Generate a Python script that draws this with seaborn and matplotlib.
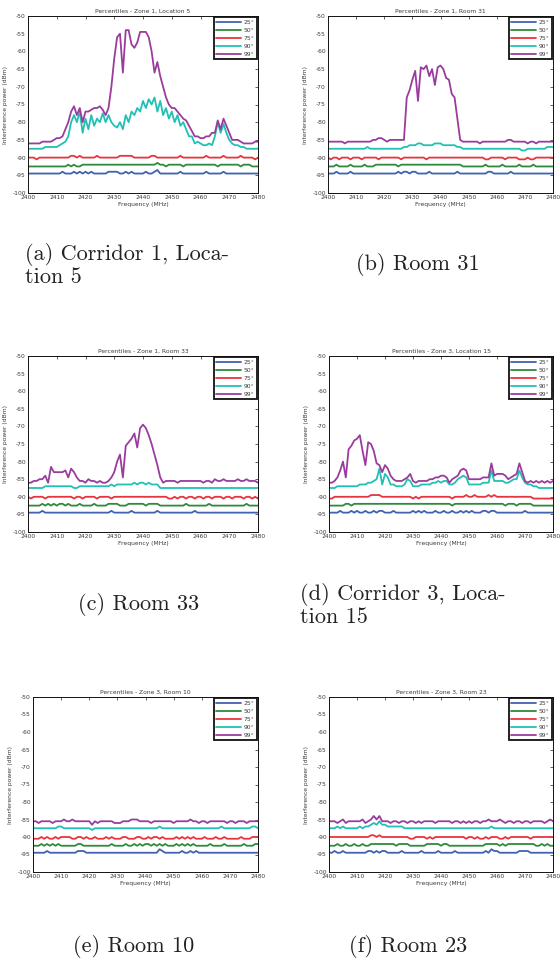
import matplotlib
matplotlib.use("Agg")
import matplotlib.pyplot as plt
import seaborn as sns
import pandas as pd

# ---------------- data ----------------
FREQ = list(range(2400, 2481))  # MHz, 1 MHz steps
LABELS = ["25°", "50°", "75°", "90°", "99°"]
COLORS = ["#3f63b0", "#2f8a3c", "#e8343c", "#22c0b4", "#9a3c9e"]

TITLES = ["Percentiles - Zone 1, Location 5", "Percentiles - Zone 1, Room 31",
          "Percentiles - Zone 1, Room 33", "Percentiles - Zone 3, Location 15",
          "Percentiles - Zone 3, Room 10", "Percentiles - Zone 3, Room 23"]

# (a) Corridor 1, Location 5
A25 = [-94.5,-94.5,-94.5,-94.5,-94.5,-94.5,-94.5,-94.5,-94.5,-94.5,
       -94.5,-94.5,-94,-94.5,-94.5,-94.5,-94,-94.5,-94,-94.5,
       -94,-94.5,-94,-94.5,-94.5,-94.5,-94.5,-94.5,-94,-94,
       -94,-94,-94.5,-94.5,-94,-94.5,-94,-94.5,-94.5,-94.5,
       -94.5,-94,-94.5,-94.5,-94,-93.5,-94.5,-94.5,-94.5,-94.5,
       -94.5,-94.5,-94.5,-94,-94.5,-94.5,-94.5,-94.5,-94.5,-94.5,
       -94.5,-94.5,-94,-94.5,-94.5,-94.5,-94.5,-94.5,-94,-94.5,
       -94.5,-94.5,-94.5,-94.5,-94.5,-94.5,-94.5,-94.5,-94.5,-94.5,
       -94.5]
A50 = [-92.5,-92.5,-92.5,-92.5,-92.5,-92.5,-92.5,-92.5,-92.5,-92.5,
       -92.5,-92.5,-92.5,-92.5,-92,-92.5,-92,-92.5,-92.5,-92,
       -92,-92,-92,-92,-92,-92,-92,-92,-92,-92,
       -92,-92,-92,-92,-92,-92,-92,-92,-92,-92,
       -92,-92,-92,-92,-92,-91.5,-92,-92,-92.5,-92,
       -92,-92,-92,-92,-92.5,-92,-92,-92,-92,-92,
       -92,-92,-92,-92,-92,-92,-92.5,-92,-92,-92,
       -92,-92,-92,-92,-92.5,-92,-92,-92,-92.5,-92.5,
       -92.5]
A75 = [-90,-90,-90,-90.5,-90,-90,-90,-90,-90,-90,
       -90,-90,-90,-90,-90,-89.5,-89.5,-90,-89.5,-90,
       -90,-90,-90,-90,-89.5,-90,-90,-90,-90,-90,
       -90,-90,-89.5,-89.5,-89.5,-89.5,-89.5,-90,-90,-90,
       -90,-90,-90,-89.5,-89.5,-90,-90,-90,-90,-90,
       -90,-90,-90,-89.5,-90,-90,-90,-90,-90,-90,
       -90,-90,-89.5,-90,-90,-90,-90,-90,-89.5,-90,
       -90,-90,-90,-90,-89.5,-90,-90,-90,-90,-90.5,
       -90]
A90 = [-87.5,-87.5,-87.5,-87.5,-87.5,-87.5,-87,-87,-87,-87,
       -87,-86.5,-86,-85.5,-84,-80,-78,-80,-77,-83,
       -79,-82,-78,-81,-79,-80,-77.5,-80,-78,-80,
       -81,-81.5,-80,-82,-78,-80,-77,-78,-76,-77,
       -74,-76,-73.5,-75,-73,-77,-74,-78,-76,-79,
       -77,-80,-78,-81,-80,-82,-84,-84,-86,-85.5,
       -86,-86.5,-86.5,-86,-86.5,-84,-80,-83,-80.5,-83,
       -85,-86,-86.5,-86.5,-87,-87,-87.5,-87.5,-87.5,-87.5,
       -87.5]
A99 = [-86,-86,-86,-86,-86,-85.5,-85.5,-85.5,-85.5,-85,
       -84.5,-84.5,-84,-82,-80,-77,-75.5,-78,-76,-80,
       -77,-77,-76.5,-76,-76,-75.5,-76.5,-78,-76,-70,
       -62,-56,-55,-66,-54,-54,-58,-59,-57.5,-54.5,
       -54.5,-54.5,-56,-60,-66,-63,-67,-70,-73,-75,
       -76,-76,-77,-78,-79,-79.5,-81,-82.5,-84,-84,
       -84.5,-84.5,-84,-84,-83,-83,-79.5,-82,-79,-81,
       -83,-85,-85,-85,-85.5,-86,-86,-86,-86,-85.5,
       -85.5]

# (b) Room 31
B25 = [-94.5,-94.5,-94.5,-94,-94.5,-94.5,-94.5,-94.5,-94,-94.5,
       -94.5,-94.5,-94.5,-94.5,-94.5,-94.5,-94.5,-94.5,-94.5,-94.5,
       -94.5,-94.5,-94.5,-94.5,-94.5,-94,-94.5,-94,-94,-94.5,
       -94,-94,-94.5,-94.5,-94.5,-94.5,-94,-94.5,-94.5,-94.5,
       -94.5,-94.5,-94.5,-94.5,-94.5,-94.5,-94,-94.5,-94.5,-94.5,
       -94.5,-94.5,-94.5,-94.5,-94.5,-94.5,-94.5,-94,-94,-94.5,
       -94.5,-94.5,-94.5,-94.5,-94.5,-94,-94.5,-94.5,-94.5,-94.5,
       -94.5,-94.5,-94.5,-94.5,-94.5,-94.5,-94.5,-94.5,-94.5,-94.5,
       -94.5]
B50 = [-92.5,-92.5,-92.5,-92,-92.5,-92.5,-92.5,-92.5,-92,-92.5,
       -92.5,-92.5,-92.5,-92,-92.5,-92.5,-92.5,-92,-92,-92,
       -92,-92,-92,-92,-92,-92.5,-92,-92,-92,-92,
       -92,-92,-92,-92,-92,-92,-92,-92,-92,-92,
       -92,-92,-92,-92,-92,-92,-92,-92,-92.5,-92.5,
       -92.5,-92.5,-92.5,-92.5,-92.5,-92.5,-92,-92.5,-92.5,-92.5,
       -92.5,-92.5,-92,-92.5,-92.5,-92.5,-92.5,-92.5,-92,-92.5,
       -92.5,-92.5,-92.5,-92,-92.5,-92.5,-92.5,-92.5,-92.5,-92.5,
       -92.5]
B75 = [-90,-90.5,-90,-90,-90.5,-90,-90,-90,-90.5,-90,
       -90,-90,-90.5,-90,-90,-90,-90,-90,-90.5,-90,
       -90,-90,-90,-90,-90,-90,-90.5,-90,-90,-90,
       -90,-90,-90,-90,-90,-90.5,-90,-90,-90,-90,
       -90,-90,-90,-90,-90,-90,-90,-90,-90,-90,
       -90,-90,-90,-90,-90,-90,-90.5,-90.5,-90,-90,
       -90,-90,-90,-90.5,-90,-90,-90,-90,-90.5,-90.5,
       -90.5,-90,-90.5,-90.5,-90,-90,-90,-90,-90,-90,
       -90]
B90 = [-87.5,-87.5,-87.5,-87.5,-87.5,-87.5,-87.5,-87.5,-87.5,-87.5,
       -87.5,-87.5,-87.5,-87.5,-87,-87.5,-87.5,-87.5,-87.5,-87.5,
       -87.5,-87.5,-87.5,-87.5,-87.5,-87.5,-87.5,-87,-87,-86.5,
       -86.5,-86.5,-86,-86,-86.5,-86.5,-86.5,-86.5,-86,-86,
       -86,-86.5,-86.5,-86.5,-86.5,-86.5,-87,-87,-87.5,-87.5,
       -87.5,-87.5,-87.5,-87.5,-87.5,-87.5,-87.5,-87.5,-87.5,-87.5,
       -87.5,-87.5,-87.5,-87.5,-87.5,-87.5,-87.5,-87.5,-87.5,-88,
       -88,-87.5,-87.5,-87.5,-87.5,-87.5,-87.5,-87.5,-87,-87,
       -87]
B99 = [-85.5,-85.5,-85.5,-85.5,-85.5,-85.5,-86,-85.5,-85.5,-85.5,
       -85.5,-85.5,-85.5,-85.5,-85.5,-85.5,-85,-85,-84.5,-84.5,
       -85,-85.5,-85,-85,-85,-85,-85,-85,-73,-71,
       -68,-65.5,-74,-64.5,-65,-64,-67,-65,-69.5,-64.5,
       -64,-65,-67.5,-68,-72,-73,-79,-85,-85.5,-85.5,
       -85.5,-85.5,-85.5,-85.5,-86,-85.5,-85.5,-85.5,-85.5,-85.5,
       -85.5,-85.5,-85.5,-85.5,-85,-85,-85.5,-85.5,-85.5,-85.5,
       -85.5,-86,-85.5,-85.5,-86,-85.5,-85.5,-85.5,-85.5,-85.5,
       -85.5]

# (c) Room 33
C25 = [-94.5,-94.5,-94.5,-94.5,-94.5,-94,-94.5,-94.5,-94.5,-94.5,
       -94.5,-94.5,-94.5,-94.5,-94.5,-94.5,-94.5,-94.5,-94.5,-94.5,
       -94.5,-94.5,-94.5,-94.5,-94.5,-94.5,-94.5,-94.5,-94.5,-94,
       -94.5,-94.5,-94.5,-94.5,-94.5,-94.5,-94,-94.5,-94.5,-94.5,
       -94.5,-94.5,-94.5,-94.5,-94.5,-94,-94.5,-94.5,-94.5,-94.5,
       -94.5,-94.5,-94.5,-94.5,-94.5,-94.5,-94.5,-94.5,-94,-94.5,
       -94.5,-94.5,-94.5,-94.5,-94.5,-94.5,-94.5,-94.5,-94.5,-94.5,
       -94.5,-94.5,-94.5,-94.5,-94.5,-94.5,-94.5,-94.5,-94.5,-94.5,
       -94.5]
C50 = [-92.5,-92.5,-92.5,-92.5,-92.5,-92,-92.5,-92,-92.5,-92,
       -92.5,-92,-92,-92.5,-92,-92.5,-92.5,-92.5,-92,-92.5,
       -92.5,-92.5,-92.5,-92,-92.5,-92.5,-92.5,-92.5,-92,-92,
       -92,-92,-92.5,-92.5,-92.5,-92,-92,-92,-92,-92,
       -92,-92.5,-92,-92,-92,-92,-92.5,-92.5,-92.5,-92.5,
       -92.5,-92.5,-92.5,-92.5,-92.5,-92,-92.5,-92.5,-92.5,-92.5,
       -92.5,-92.5,-92.5,-92,-92.5,-92.5,-92.5,-92.5,-92.5,-92.5,
       -92.5,-92.5,-92.5,-92.5,-92.5,-92.5,-92,-92.5,-92.5,-92.5,
       -92.5]
C75 = [-90,-90.5,-90,-90,-90,-90,-90.5,-90,-90,-90,
       -90,-90,-90,-90,-90,-90,-90.5,-90,-90,-90.5,
       -90,-90,-90,-90,-90.5,-90,-90,-90,-90,-90.5,
       -90,-90,-90,-90,-90,-90,-90,-90,-90,-90,
       -90,-90,-90,-90,-90,-90,-90,-90,-90,-90.5,
       -90.5,-90,-90.5,-90,-90,-90.5,-90,-90,-90.5,-90,
       -90,-90.5,-90,-90,-90.5,-90,-90,-90,-90.5,-90,
       -90,-90.5,-90,-90,-90,-90.5,-90,-90,-90.5,-90,
       -90.5]
C90 = [-87.5,-87.5,-87.5,-87.5,-87.5,-87.5,-87,-87,-87,-87,
       -87,-87,-87,-87,-87,-87,-87.5,-87.5,-87,-87,
       -87,-87,-87,-87,-87,-87,-87,-87,-87,-86.5,
       -87,-86.5,-86.5,-86.5,-86.5,-86.5,-86.5,-86,-86.5,-86,
       -86,-86.5,-86,-86.5,-86.5,-86.5,-87.5,-87.5,-87.5,-87.5,
       -87.5,-87.5,-87.5,-87.5,-87.5,-87.5,-87.5,-87.5,-87.5,-87.5,
       -87.5,-87.5,-87.5,-87.5,-87.5,-87.5,-87.5,-87.5,-87.5,-87.5,
       -87.5,-87.5,-87.5,-87.5,-87.5,-87.5,-87.5,-87.5,-87.5,-87.5,
       -87.5]
C99 = [-86,-86,-85.5,-85.5,-85,-85,-84,-86,-81.5,-83,
       -83,-83,-83,-82.5,-84.5,-82,-83,-84.5,-85.5,-85.5,
       -86,-85,-85.5,-85.5,-86,-85.5,-86,-86,-85.5,-84.5,
       -83,-80,-78,-84.5,-75.5,-74.5,-73.5,-72,-76,-70.5,
       -69.5,-70.5,-72.5,-75,-78,-81,-84.5,-86,-85.5,-85.5,
       -85.5,-85.5,-86,-85.5,-85.5,-85.5,-85.5,-85.5,-85.5,-85.5,
       -85.5,-86,-85.5,-85.5,-86,-85,-85.5,-85.5,-85,-85.5,
       -85.5,-85.5,-85.5,-85,-85.5,-85.5,-85,-85.5,-85.5,-85.5,
       -86]

# (d) Corridor 3, Location 15
D25 = [-94.5,-94.5,-94.5,-94.5,-94,-94.5,-94.5,-94.5,-94,-94.5,
       -94,-94.5,-94.5,-94,-94.5,-94.5,-94,-94.5,-94,-94,
       -94.5,-94.5,-94.5,-94,-94.5,-94.5,-94.5,-94.5,-94.5,-94.5,
       -94,-94.5,-94,-94.5,-94,-94.5,-94.5,-94.5,-94,-94.5,
       -94.5,-94,-94.5,-94.5,-94,-94.5,-94.5,-94,-94.5,-94,
       -94.5,-94,-94.5,-94.5,-94.5,-94,-94,-94.5,-94,-94,
       -94.5,-94.5,-94.5,-94.5,-94.5,-94.5,-94.5,-94.5,-94.5,-94.5,
       -94,-94.5,-94.5,-94.5,-94.5,-94.5,-94.5,-94.5,-94.5,-94.5,
       -94.5]
D50 = [-92.5,-92.5,-92.5,-92.5,-92.5,-92.5,-92,-92,-92.5,-92,
       -92,-92,-92,-92,-92,-92,-92,-92,-92,-92,
       -92,-92,-92,-92,-92,-92,-92,-92,-92,-92,
       -92,-92,-92,-92,-92,-92,-92,-92,-92,-92,
       -92,-92,-92,-92,-92.5,-92,-92,-92,-92,-92,
       -92,-92,-92,-92,-92,-92,-92,-92,-92,-92,
       -92,-92,-92,-92.5,-92,-92,-92,-92.5,-92,-92,
       -92,-92,-92,-92.5,-92.5,-92.5,-92.5,-92.5,-92.5,-92.5,
       -92.5]
D75 = [-90.5,-90.5,-90,-90,-90,-90,-90,-90,-90,-90,
       -90,-90,-90,-90,-90,-89.5,-89.5,-89.5,-89.5,-90,
       -90,-90,-90,-90,-90,-90,-90,-90,-90,-90,
       -90.5,-90,-90.5,-90,-90,-90,-90,-90,-90,-90,
       -90,-90,-90,-90,-90.5,-90,-90,-90,-90,-89.5,
       -90,-90,-89.5,-90,-90,-90,-90,-89.5,-90,-89.5,
       -90,-90,-90,-90,-90,-90,-90,-90,-90,-90,
       -90,-90,-90,-90.5,-90.5,-90.5,-90.5,-90.5,-90.5,-90.5,
       -90.5]
D90 = [-87.5,-87.5,-87.5,-87,-87,-87,-87,-87,-87,-87,
       -87,-86.5,-86.5,-86.5,-86,-86,-85.5,-85,-82,-86.5,
       -83.5,-84.5,-86.5,-86.5,-87,-87,-87,-86.5,-85,-85.5,
       -87,-87,-87,-86.5,-86.5,-86.5,-86.5,-86,-86,-85.5,
       -86,-85.5,-85.5,-86.5,-86.5,-86,-85,-84.5,-84,-84.5,
       -86.5,-86.5,-86.5,-86.5,-86.5,-86,-86,-86,-82.5,-85.5,
       -85.5,-85.5,-85.5,-86,-86,-85.5,-85,-85,-82.5,-84.5,
       -86,-86.5,-86.5,-87,-87,-87.5,-87.5,-87.5,-87.5,-87.5,
       -87.5]
D99 = [-86,-86,-85.5,-84.5,-82.5,-80,-84.5,-76.5,-75.5,-74,
       -73.5,-72.5,-77,-81,-74.5,-75,-77,-80.5,-81,-83,
       -81,-82,-84,-85,-85.5,-85.5,-85.5,-85,-84.5,-83.5,
       -85.5,-86,-85.5,-85.5,-85.5,-85.5,-85,-85,-84.5,-84.5,
       -84,-84,-84.5,-86,-85,-84.5,-84,-82.5,-82,-82.5,
       -85,-85,-85,-85,-85,-84.5,-84.5,-84.5,-80.5,-84,
       -83.5,-83.5,-83.5,-84,-85,-84.5,-84,-83.5,-80.5,-83,
       -85.5,-86,-85.5,-86,-85.5,-86,-85.5,-86,-85.5,-86,
       -85.5]

# (e) Room 10
E25 = [-94.5,-94.5,-94.5,-94.5,-94.5,-94,-94.5,-94.5,-94.5,-94.5,
       -94.5,-94.5,-94.5,-94.5,-94.5,-94.5,-94,-94,-94,-94.5,
       -94.5,-94.5,-94.5,-94.5,-94.5,-94.5,-94.5,-94.5,-94.5,-94.5,
       -94.5,-94.5,-94.5,-94.5,-94.5,-94.5,-94.5,-94.5,-94.5,-94.5,
       -94.5,-94.5,-94.5,-94.5,-94.5,-93.5,-94,-94.5,-94.5,-94.5,
       -94.5,-94.5,-94.5,-94,-94.5,-94.5,-94,-94.5,-94,-94.5,
       -94.5,-94.5,-94.5,-94.5,-94.5,-94.5,-94.5,-94.5,-94.5,-94.5,
       -94.5,-94.5,-94.5,-94.5,-94.5,-94.5,-94.5,-94.5,-94.5,-94.5,
       -94.5]
E50 = [-92.5,-92.5,-92.5,-92,-92.5,-92,-92.5,-92,-92.5,-92,
       -92.5,-92.5,-92.5,-92.5,-92.5,-92.5,-92,-92,-92.5,-92.5,
       -92.5,-92.5,-92.5,-92.5,-92.5,-92.5,-92.5,-92.5,-92,-92.5,
       -92.5,-92.5,-92.5,-92,-92.5,-92.5,-92,-92.5,-92,-92.5,
       -92,-92,-92.5,-92,-92.5,-92,-92.5,-92,-92.5,-92.5,
       -92.5,-92,-92.5,-92,-92.5,-92,-92.5,-92,-92.5,-92.5,
       -92.5,-92.5,-92.5,-92,-92.5,-92.5,-92.5,-92.5,-92,-92.5,
       -92.5,-92.5,-92.5,-92.5,-92.5,-92,-92.5,-92.5,-92.5,-92,
       -92]
E75 = [-90.5,-90.5,-90.5,-90,-90.5,-90,-90.5,-90.5,-90,-90.5,
       -90,-90,-90,-90,-90.5,-90.5,-90,-90,-90.5,-90,
       -90.5,-90.5,-90,-90.5,-90.5,-90.5,-90,-90.5,-90,-90.5,
       -90.5,-90.5,-90,-90,-90.5,-90.5,-90.5,-90,-90,-90.5,
       -90.5,-90,-90.5,-90,-90,-90.5,-90,-90.5,-90.5,-90.5,
       -90.5,-90,-90.5,-90,-90.5,-90,-90.5,-90,-90.5,-90.5,
       -90.5,-90,-90.5,-90.5,-90.5,-90,-90.5,-90.5,-90,-90.5,
       -90.5,-90.5,-90.5,-90.5,-90,-90.5,-90.5,-90.5,-90,-90,
       -90]
E90 = [-87.5,-87.5,-87.5,-87.5,-87.5,-87.5,-87.5,-87.5,-87.5,-87,
       -87,-87.5,-87.5,-87.5,-87.5,-87.5,-87.5,-87.5,-87.5,-87.5,
       -87.5,-88,-87.5,-87.5,-87.5,-87.5,-87.5,-87.5,-87.5,-87.5,
       -87.5,-87.5,-87.5,-87.5,-87.5,-87.5,-87.5,-87.5,-87.5,-87.5,
       -87.5,-87.5,-87.5,-87.5,-87.5,-87,-87.5,-87.5,-87.5,-87.5,
       -87.5,-87.5,-87.5,-87.5,-87.5,-87.5,-87.5,-87.5,-87.5,-87.5,
       -87.5,-87.5,-87.5,-87.5,-87.5,-87.5,-87.5,-87,-87.5,-87.5,
       -87.5,-87.5,-87.5,-87.5,-87.5,-87.5,-87.5,-87.5,-87,-87,
       -87.5]
E99 = [-85.5,-85.5,-86,-85.5,-85.5,-85.5,-85.5,-86,-85.5,-85.5,
       -85.5,-85,-85.5,-85.5,-85,-85.5,-85.5,-85.5,-85.5,-85.5,
       -85.5,-86.5,-85.5,-86,-85.5,-85.5,-85.5,-85.5,-85.5,-86,
       -86,-86,-85.5,-85.5,-85.5,-85,-85,-85,-85.5,-85.5,
       -85.5,-85.5,-86,-85.5,-85.5,-85.5,-85.5,-85.5,-85.5,-85.5,
       -86,-85.5,-85.5,-85.5,-85.5,-85.5,-85,-85.5,-85.5,-86,
       -85.5,-85.5,-86,-85.5,-85.5,-85.5,-85.5,-85.5,-85.5,-86,
       -85.5,-85.5,-86,-85.5,-85.5,-85.5,-86,-85.5,-85.5,-85.5,
       -85.5]

# (f) Room 23
F25 = [-94.5,-94.5,-94,-94.5,-94.5,-94,-94.5,-94.5,-94.5,-94.5,
       -94.5,-94.5,-94.5,-94.5,-94,-94,-94.5,-94,-94.5,-94,
       -94,-94.5,-94.5,-94.5,-94.5,-94.5,-94,-94.5,-94.5,-94.5,
       -94.5,-94.5,-94.5,-94,-94.5,-94.5,-94.5,-94.5,-94.5,-94,
       -94.5,-94.5,-94.5,-94.5,-94.5,-94,-94.5,-94.5,-94.5,-94.5,
       -94.5,-94.5,-94.5,-94.5,-94.5,-94.5,-94,-94.5,-93.5,-94,
       -94,-94.5,-94.5,-94.5,-94.5,-94.5,-94.5,-94.5,-94,-94,
       -94,-94,-94.5,-94.5,-94.5,-94.5,-94.5,-94.5,-94.5,-94.5,
       -94.5]
F50 = [-92.5,-92.5,-92.5,-92,-92.5,-92.5,-92,-92.5,-92.5,-92,
       -92.5,-92.5,-92,-92.5,-92.5,-92,-92,-92,-92,-92,
       -92,-92,-92,-92,-92.5,-92,-92,-92,-92,-92.5,
       -92.5,-92.5,-92.5,-92.5,-92.5,-92,-92,-92,-92,-92,
       -92.5,-92,-92,-92.5,-92.5,-92.5,-92.5,-92.5,-92.5,-92.5,
       -92.5,-92.5,-92.5,-92.5,-92.5,-92.5,-92,-92,-92,-92,
       -92,-92.5,-92,-92.5,-92,-92,-92,-92,-92,-92,
       -92,-92,-92,-92,-92.5,-92.5,-92,-92.5,-92,-92.5,
       -92.5]
F75 = [-90,-90,-90,-90,-90,-90,-90,-90,-90,-90,
       -90,-90,-90,-90,-90,-89.5,-89.5,-90,-89.5,-90,
       -90,-90,-90,-90,-90,-90,-90,-90,-90,-90.5,
       -90.5,-90,-90,-90,-90,-90.5,-90,-90.5,-90,-90,
       -90,-90,-90,-90,-90,-90,-90,-90,-90,-90.5,
       -90,-90,-90.5,-90,-90.5,-90.5,-90,-90.5,-90,-90,
       -90,-90.5,-90.5,-90,-90.5,-90,-90,-90,-90,-90,
       -90,-90,-90.5,-90,-90,-90,-90,-90,-90,-90,
       -90]
F90 = [-87.5,-87.5,-87.5,-87,-87.5,-87,-87.5,-87.5,-87.5,-87.5,
       -87.5,-87,-87.5,-87,-87,-86.5,-86,-86.5,-85.5,-86.5,
       -86.5,-87,-87,-87,-87,-87,-87,-87.5,-87.5,-87.5,
       -87.5,-87.5,-87.5,-87.5,-87.5,-87.5,-87.5,-87.5,-87.5,-87.5,
       -87.5,-87.5,-87.5,-87.5,-87.5,-87.5,-87.5,-87.5,-87.5,-87.5,
       -87.5,-87.5,-87.5,-87.5,-87.5,-87.5,-87.5,-87.5,-87,-87.5,
       -87.5,-87.5,-87.5,-87.5,-87.5,-87.5,-87.5,-87.5,-87.5,-87.5,
       -87.5,-87.5,-87.5,-87.5,-87.5,-87.5,-87.5,-87.5,-87.5,-87.5,
       -87.5]
F99 = [-85.5,-85.5,-85.5,-86,-85.5,-85,-86,-85.5,-85.5,-85.5,
       -85.5,-85.5,-85,-86,-85.5,-85,-84,-85,-84,-85.5,
       -85.5,-85.5,-86,-85.5,-85.5,-86,-85.5,-85.5,-86,-85.5,
       -85.5,-86,-85.5,-86,-85.5,-85.5,-85.5,-85.5,-86,-85.5,
       -85.5,-85.5,-85.5,-85.5,-86,-85.5,-85.5,-86,-85.5,-86,
       -85.5,-86,-85.5,-85.5,-86,-85.5,-85.5,-85,-85.5,-85.5,
       -85.5,-85,-85.5,-86,-85.5,-85.5,-86,-85.5,-85.5,-86,
       -85.5,-85.5,-86,-85.5,-85.5,-85.5,-85.5,-86,-85.5,-85,
       -85.5]

PANELS = [
    [A25, A50, A75, A90, A99],
    [B25, B50, B75, B90, B99],
    [C25, C50, C75, C90, C99],
    [D25, D50, D75, D90, D99],
    [E25, E50, E75, E90, E99],
    [F25, F50, F75, F90, F99],
]

CAPTIONS = [
    ["(a) Corridor 1, Loca-", "tion 5"],
    ["(b) Room 31"],
    ["(c) Room 33"],
    ["(d) Corridor 3, Loca-", "tion 15"],
    ["(e) Room 10"],
    ["(f) Room 23"],
]

# ---------------- style ----------------
sns.set_theme(style="white")
plt.rcParams["font.family"] = ["DejaVu Sans"]
plt.rcParams["axes.unicode_minus"] = False

W, H = 560, 958
fig = plt.figure(figsize=(W / 100, H / 100), dpi=100)

# axes boxes in pixels: left, top, right, bottom
BOXES = [
    (28, 16, 258, 193), (328, 16, 553, 193),
    (28, 356, 258, 532), (329, 356, 553, 532),
    (33, 697, 258, 872), (329, 697, 553, 872),
]
TXT = "#3a3a3a"
FS = 4.3

for i, (box, series) in enumerate(zip(BOXES, PANELS)):
    l, t, r, b = box
    ax = fig.add_axes([l / W, 1 - b / H, (r - l) / W, (b - t) / H])
    rows = []
    for lab, vals in zip(LABELS, series):
        for f, v in zip(FREQ, vals):
            rows.append({"freq": f, "power": v, "pct": lab})
    df = pd.DataFrame(rows)
    sns.lineplot(data=df, x="freq", y="power", hue="pct", hue_order=LABELS,
                 palette=COLORS, estimator=None, linewidth=1.3, legend=False, ax=ax)
    ax.set_xlim(2400, 2480)
    ax.set_ylim(-100, -50)
    ax.set_xticks(range(2400, 2481, 10))
    ax.set_yticks(range(-100, -49, 5))
    ax.tick_params(axis="both", which="both", direction="in", length=2, width=0.5,
                   top=True, right=True, labelsize=FS, labelcolor=TXT, pad=1.5, colors="#222222")
    for sp in ax.spines.values():
        sp.set_color("#111111")
        sp.set_linewidth(0.7)
    ax.set_title(TITLES[i], fontsize=FS, color=TXT, pad=2.5)
    ax.set_xlabel("Frequency (MHz)", fontsize=FS, color=TXT, labelpad=1.5)
    ax.set_ylabel("Interference power (dBm)", fontsize=FS, color=TXT, labelpad=3)
    leg = ax.legend(handles=ax.get_lines()[:5], labels=LABELS, loc="upper right",
                    fontsize=FS, frameon=True, fancybox=False, framealpha=1,
                    handlelength=4.2, handletextpad=0.5, labelspacing=0.48,
                    borderpad=0.35, borderaxespad=0.25)
    leg.get_frame().set_edgecolor("#111111")
    leg.get_frame().set_linewidth(1.3)
    for tx in leg.get_texts():
        tx.set_color(TXT)

# captions (pixel positions)
CAP_FS = 16
cap_specs = [
    ("left", 25, [254, 277]),
    ("center", 418, [265]),
    ("center", 139, [605]),
    ("left", 300, [594, 617]),
    ("center", 134, [946]),
    ("center", 408, [946]),
]
for (ha, x, ys), lines in zip(cap_specs, CAPTIONS):
    for y, line in zip(ys, lines):
        fig.text(x / W, 1 - y / H, line, ha=ha, va="center",
                 fontsize=CAP_FS, family="cmr10", color="#222222")

fig.savefig("out.png", dpi=100)
